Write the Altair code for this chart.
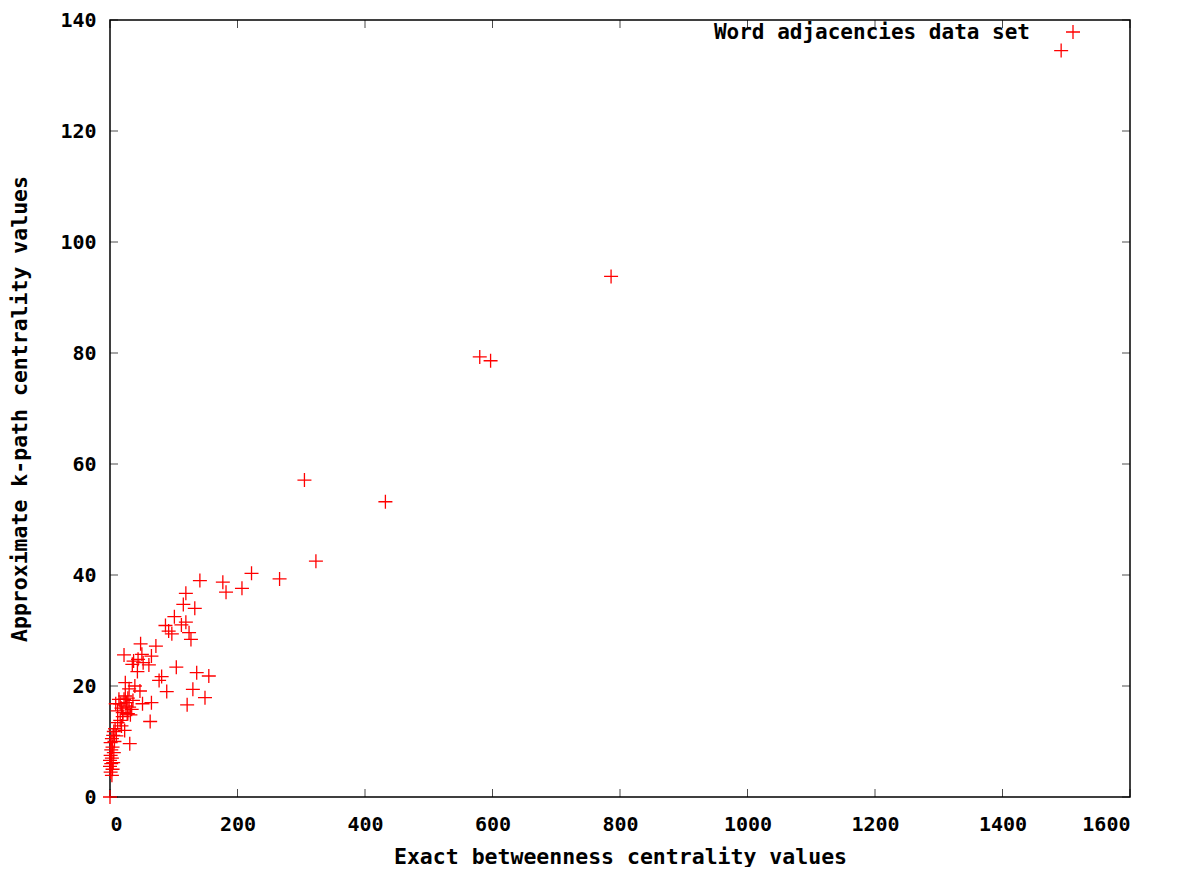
import altair as alt
import pandas as pd

# Exact betweenness (x) vs approximate k-path centrality (y)
bc_exact = [
    1492, 786, 580, 597, 305, 432, 323, 266, 222, 207, 177, 182, 141, 155, 149,
    119, 115, 133, 101, 87, 119, 112, 92, 97, 124, 127, 48, 72, 22, 50, 65, 37, 44,
    52, 61, 43, 35, 104, 136, 81, 77, 24, 89, 130, 121, 39, 47, 51, 65, 63,
    9, 14, 18, 20, 22, 25, 27, 28, 30, 32, 34, 36, 30, 24, 20, 16, 12, 26,
    12, 16, 8, 23, 18, 5, 31, 28,
    3, 1, 4, 2, 6, 1, 3, 0, 5, 2, 0, 4, 1, 3, 0, 7, 6, 10,
]
kpath_approx = [
    134.5, 93.8, 79.3, 78.6, 57.1, 53.2, 42.5, 39.3, 40.3, 37.6, 38.7, 36.9, 39.0, 21.8, 17.9,
    36.7, 34.7, 34.0, 32.5, 30.9, 31.5, 31.0, 29.9, 29.4, 29.6, 28.4, 27.6, 27.2, 25.6, 25.7, 25.4, 24.5, 24.8,
    24.2, 23.8, 22.6, 23.9, 23.4, 22.4, 21.7, 21.0, 20.6, 19.0, 19.4, 16.6, 20.0, 19.1, 16.8, 17.0, 13.6,
    16.8, 17.6, 16.0, 15.2, 17.6, 16.4, 15.0, 17.8, 16.2, 14.8, 15.8, 17.4, 19.5, 18.2, 14.5, 16.8, 15.5, 17.0,
    13.4, 13.8, 12.3, 12.0, 12.8, 11.1, 9.6, 15.0,
    10.5, 9.8, 9.0, 8.5, 8.0, 7.5, 7.0, 6.6, 6.2, 6.0, 5.5, 5.0, 4.5, 3.9, 0.0, 10.0, 11.8, 11.0,
]
series_name = "Word adjacencies data set"

x_ticks = [0, 200, 400, 600, 800, 1000, 1200, 1400, 1600]
y_ticks = [0, 20, 40, 60, 80, 100, 120, 140]

W, H = 1020, 777
FONT = "DejaVu Sans Mono"
PLUS = "M-1,0L1,0M0,-1L0,1"
RED = "#ff0000"

df = pd.DataFrame({"x": bc_exact, "y": kpath_approx})
dx = pd.DataFrame({"v": x_ticks})
dy = pd.DataFrame({"v": y_ticks})
dkey = pd.DataFrame({"series": [series_name]})

xscale = alt.Scale(domain=[0, 1600], nice=False, zero=False)
yscale = alt.Scale(domain=[0, 140], nice=False, zero=False)

xaxis = alt.Axis(
    values=x_ticks, format="d", title="Exact betweenness centrality values", grid=False,
    domain=False, ticks=False, tickSize=0, labelPadding=17,
    labelFont=FONT, labelFontSize=20, labelFontWeight="bold", labelColor="#000",
    titleFont=FONT, titleFontSize=21.5, titleFontWeight="bold", titleColor="#000",
    titleY=60, titleBaseline="middle",
)
yaxis = alt.Axis(
    values=y_ticks, format="d", title="Approximate k-path centrality values", grid=False,
    domain=False, ticks=False, tickSize=0, labelPadding=14,
    labelFont=FONT, labelFontSize=20, labelFontWeight="bold", labelColor="#000",
    titleFont=FONT, titleFontSize=21.5, titleFontWeight="bold", titleColor="#000",
    titleAngle=270, titleX=-90, titleY=H / 2, titleBaseline="middle", titleAlign="center",
)

points = alt.Chart(df).mark_point(
    shape=PLUS, size=196, strokeWidth=1.3, filled=False, opacity=1, color=RED
).encode(
    x=alt.X("x:Q", scale=xscale, axis=xaxis),
    y=alt.Y("y:Q", scale=yscale, axis=yaxis),
)

key_text = alt.Chart(dkey).mark_text(
    align="right", baseline="middle", font=FONT, fontSize=21, fontWeight="bold", color="#000"
).encode(text="series:N", x=alt.value(920), y=alt.value(13))
key_sym = alt.Chart(dkey).mark_point(
    shape=PLUS, size=196, strokeWidth=1.3, filled=False, opacity=1, color=RED
).encode(x=alt.value(963), y=alt.value(12))

tick_style = dict(color="#000", thickness=1, size=8)
y_left = alt.Chart(dy).mark_tick(orient="horizontal", **tick_style).encode(
    y=alt.Y("v:Q", scale=yscale, axis=yaxis), x=alt.value(4))
y_right = alt.Chart(dy).mark_tick(orient="horizontal", **tick_style).encode(
    y=alt.Y("v:Q", scale=yscale, axis=yaxis), x=alt.value(W - 4))
x_bot = alt.Chart(dx).mark_tick(orient="vertical", **tick_style).encode(
    x=alt.X("v:Q", scale=xscale, axis=xaxis), y=alt.value(H - 4))
x_top = alt.Chart(dx).mark_tick(orient="vertical", **tick_style).encode(
    x=alt.X("v:Q", scale=xscale, axis=xaxis), y=alt.value(4))

chart = alt.layer(y_left, y_right, x_bot, x_top, points, key_text, key_sym).properties(
    width=W, height=H,
    autosize=alt.AutoSizeParams(type="none"),
    padding={"left": 102, "top": 12, "right": 40, "bottom": 70},
    background="white",
).configure_view(stroke="#000", strokeWidth=1.5)

chart.save("out.html", embed_options={"renderer": "svg", "actions": False})
